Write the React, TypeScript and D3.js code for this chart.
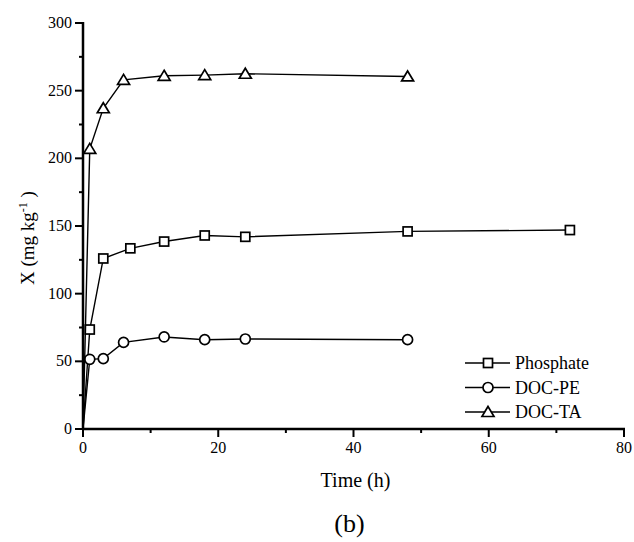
import { useEffect, useRef } from "react";
import * as d3 from "d3";

const phosphateTime = [0, 1, 3, 7, 12, 18, 24, 48, 72];
const phosphateValue = [0, 73.5, 126, 133.5, 138.5, 143, 142, 146, 147];
const docPeTime = [0, 1, 3, 6, 12, 18, 24, 48];
const docPeValue = [0, 51.5, 52, 64, 68, 66, 66.5, 66];
const docTaTime = [0, 1, 3, 6, 12, 18, 24, 48];
const docTaValue = [0, 207, 237, 258, 261, 261.5, 262.5, 260.5];

const seriesNames = ["Phosphate", "DOC-PE", "DOC-TA"];
const xTicks = [0, 20, 40, 60, 80];
const yTicks = [0, 50, 100, 150, 200, 250, 300];

export default function App() {
  const ref = useRef(null);

  useEffect(() => {
    const svg = d3.select(ref.current);
    svg.selectAll("*").remove();

    const left = 83, right = 624, top = 23, bottom = 429;
    const x = d3.scaleLinear().domain([0, 80]).range([left, right]);
    const y = d3.scaleLinear().domain([0, 300]).range([bottom, top]);
    const font = "'Liberation Serif', 'Times New Roman', serif";

    const series = [
      { name: seriesNames[0], t: phosphateTime, v: phosphateValue, shape: "square" },
      { name: seriesNames[1], t: docPeTime, v: docPeValue, shape: "circle" },
      { name: seriesNames[2], t: docTaTime, v: docTaValue, shape: "triangle" },
    ];

    const drawMarker = (g, shape, cx, cy) => {
      if (shape === "square") {
        g.append("rect").attr("x", cx - 4.5).attr("y", cy - 4.5).attr("width", 9).attr("height", 9)
          .attr("fill", "#fff").attr("stroke", "#000").attr("stroke-width", 1.7);
      } else if (shape === "circle") {
        g.append("circle").attr("cx", cx).attr("cy", cy).attr("r", 5)
          .attr("fill", "#fff").attr("stroke", "#000").attr("stroke-width", 1.7);
      } else {
        g.append("path").attr("d", `M${cx},${cy - 5.5}L${cx + 6},${cy + 4.5}L${cx - 6},${cy + 4.5}Z`)
          .attr("fill", "#fff").attr("stroke", "#000").attr("stroke-width", 1.7);
      }
    };

    // lines + markers
    const line = d3.line<[number, number]>().x(d => x(d[0])).y(d => y(d[1]));
    series.forEach(s => {
      const pts: [number, number][] = s.t.map((t, i) => [t, s.v[i]]);
      svg.append("path").attr("d", line(pts)).attr("fill", "none")
        .attr("stroke", "#000").attr("stroke-width", 1.4);
      const g = svg.append("g");
      pts.slice(1).forEach(p => drawMarker(g, s.shape, x(p[0]), y(p[1])));
    });

    // x axis
    const xa = svg.append("g");
    xa.append("line").attr("x1", left).attr("x2", right + 1).attr("y1", bottom).attr("y2", bottom)
      .attr("stroke", "#000").attr("stroke-width", 2.5);
    d3.range(0, 81, 10).forEach(t => {
      const major = t % 20 === 0;
      xa.append("line").attr("x1", x(t)).attr("x2", x(t)).attr("y1", bottom).attr("y2", bottom + (major ? 8 : 4))
        .attr("stroke", "#000").attr("stroke-width", 2);
    });
    xTicks.forEach(t => {
      xa.append("text").attr("x", x(t)).attr("y", bottom + 24).attr("text-anchor", "middle")
        .attr("font-family", font).attr("font-size", 16).text(t);
    });

    // y axis
    const ya = svg.append("g");
    ya.append("line").attr("x1", left).attr("x2", left).attr("y1", top - 1).attr("y2", bottom)
      .attr("stroke", "#000").attr("stroke-width", 2.5);
    d3.range(0, 301, 25).forEach(v => {
      const major = v % 50 === 0;
      ya.append("line").attr("x1", left).attr("x2", left - (major ? 8 : 4)).attr("y1", y(v)).attr("y2", y(v))
        .attr("stroke", "#000").attr("stroke-width", 2);
    });
    yTicks.forEach(v => {
      ya.append("text").attr("x", left - 11).attr("y", y(v) + 5).attr("text-anchor", "end")
        .attr("font-family", font).attr("font-size", 16).text(v);
    });

    // axis titles
    svg.append("text").attr("x", (left + right) / 2 + 2).attr("y", 487).attr("text-anchor", "middle")
      .attr("font-family", font).attr("font-size", 20).text("Time (h)");
    const yl = svg.append("text").attr("transform", `translate(34,${(top + bottom) / 2 + 12}) rotate(-90)`)
      .attr("text-anchor", "middle").attr("font-family", font).attr("font-size", 19);
    yl.append("tspan").text("X (mg kg");
    yl.append("tspan").attr("dy", -7).attr("font-size", 12).text("-1");
    yl.append("tspan").attr("dy", 7).text(" )");

    svg.append("text").attr("x", (left + right) / 2 - 4).attr("y", 532).attr("text-anchor", "middle")
      .attr("font-family", font).attr("font-size", 26).text("(b)");

    // legend
    const lg = svg.append("g");
    series.forEach((s, i) => {
      const ly = 363 + i * 24.5;
      lg.append("line").attr("x1", 465).attr("x2", 510).attr("y1", ly).attr("y2", ly)
        .attr("stroke", "#000").attr("stroke-width", 1.6);
      drawMarker(lg, s.shape, 488, ly);
      lg.append("text").attr("x", 515).attr("y", ly + 6).attr("font-family", font)
        .attr("font-size", 18).text(s.name);
    });
  }, []);

  return (
    <svg ref={ref} width={634} height={542}
      style={{ position: "absolute", left: 0, top: 0, background: "#fff" }} />
  );
}
